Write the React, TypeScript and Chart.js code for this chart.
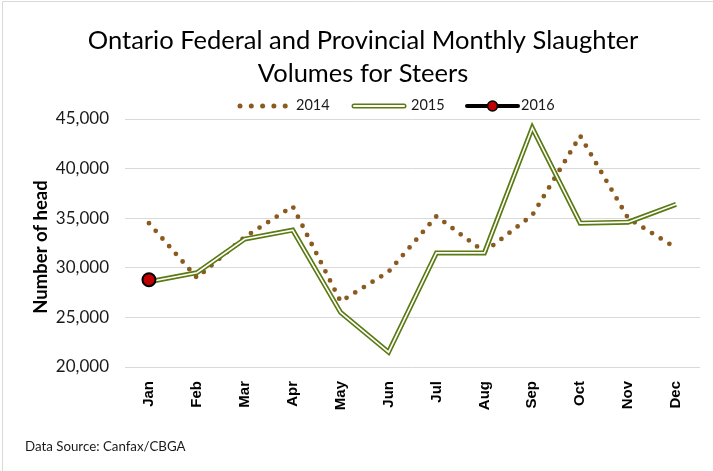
import React, { useEffect, useRef } from "react";
import { Chart, registerables } from "chart.js";

Chart.register(...registerables);

const months = ["Jan", "Feb", "Mar", "Apr", "May", "Jun", "Jul", "Aug", "Sep", "Oct", "Nov", "Dec"];
const vol2014 = [34500, 29000, 33100, 36200, 26600, 29600, 35200, 31600, 35300, 43300, 35000, 32000];
const vol2015 = [28600, 29500, 32900, 33800, 25500, 21500, 31500, 31500, 44100, 34500, 34600, 36400];
const vol2016: (number | null)[] = [28800, null, null, null, null, null, null, null, null, null, null, null];
const yMin = 20000;
const yMax = 45000;
const yStep = 5000;
const titleLines = ["Ontario Federal and Provincial Monthly Slaughter", "Volumes for Steers"];
const seriesNames = ["2014", "2015", "2016"];
const yTitle = "Number of head";
const sourceNote = "Data Source: Canfax/CBGA";

const BROWN = "#8a5a1f";
const GREEN = "#5b7a12";
const RED = "#c00000";
const FONT = "Lato, 'Open Sans', sans-serif";

const decorPlugin = {
  id: "decor",
  beforeDraw(chart: any) {
    const ctx = chart.ctx as CanvasRenderingContext2D;
    ctx.save();
    ctx.fillStyle = "#ffffff";
    ctx.fillRect(0, 0, chart.width, chart.height);
    ctx.strokeStyle = "#d9d9d9";
    ctx.lineWidth = 1;
    ctx.beginPath();
    ctx.moveTo(2.5, chart.height);
    ctx.lineTo(2.5, 1.5);
    ctx.lineTo(chart.width, 1.5);
    ctx.stroke();
    ctx.restore();
  },
  afterDraw(chart: any) {
    const ctx = chart.ctx as CanvasRenderingContext2D;
    ctx.save();
    // title
    ctx.fillStyle = "#000000";
    ctx.font = `25.5px ${FONT}`;
    ctx.textAlign = "center";
    ctx.textBaseline = "middle";
    ctx.fillText(titleLines[0], 363, 41);
    ctx.fillText(titleLines[1], 363, 74);

    // legend
    const ly = 105;
    ctx.font = `14.5px ${FONT}`;
    ctx.textAlign = "left";
    // 2014 dots
    ctx.fillStyle = BROWN;
    for (let i = 0; i < 5; i++) {
      ctx.beginPath();
      ctx.arc(240 + i * 11.3, ly + 1, 2.5, 0, Math.PI * 2);
      ctx.fill();
    }
    ctx.fillStyle = "#1a1a1a";
    ctx.fillText(seriesNames[0], 296, ly);
    // 2015 double line
    ctx.lineCap = "round";
    ctx.strokeStyle = GREEN;
    ctx.lineWidth = 5;
    ctx.beginPath();
    ctx.moveTo(354, ly + 1);
    ctx.lineTo(404, ly + 1);
    ctx.stroke();
    ctx.strokeStyle = "#ffffff";
    ctx.lineWidth = 2;
    ctx.beginPath();
    ctx.moveTo(354, ly + 1);
    ctx.lineTo(404, ly + 1);
    ctx.stroke();
    ctx.fillStyle = "#1a1a1a";
    ctx.fillText(seriesNames[1], 411, ly);
    // 2016 line + marker
    ctx.strokeStyle = "#000000";
    ctx.lineWidth = 4;
    ctx.beginPath();
    ctx.moveTo(467, ly + 1);
    ctx.lineTo(518, ly + 1);
    ctx.stroke();
    ctx.fillStyle = RED;
    ctx.lineWidth = 1.5;
    ctx.beginPath();
    ctx.arc(492.5, ly + 1, 5, 0, Math.PI * 2);
    ctx.fill();
    ctx.stroke();
    ctx.fillStyle = "#1a1a1a";
    ctx.fillText(seriesNames[2], 521, ly);

    // y axis title
    ctx.save();
    ctx.translate(41, 247);
    ctx.rotate(-Math.PI / 2);
    ctx.textAlign = "center";
    ctx.font = `bold 18.5px ${FONT}`;
    ctx.fillStyle = "#000000";
    ctx.fillText(yTitle, 0, 0);
    ctx.restore();

    // source note
    ctx.font = `13.3px ${FONT}`;
    ctx.textAlign = "left";
    ctx.fillStyle = "#1a1a1a";
    ctx.fillText(sourceNote, 25, 447);
    ctx.restore();
  },
};

export default function App() {
  const canvasRef = useRef<HTMLCanvasElement | null>(null);

  useEffect(() => {
    const canvas = canvasRef.current;
    if (!canvas) return;
    const chart = new Chart(canvas, {
      type: "line",
      data: {
        labels: months,
        datasets: [
          {
            label: seriesNames[2],
            data: vol2016,
            borderColor: "#000000",
            backgroundColor: RED,
            pointBackgroundColor: RED,
            pointBorderColor: "#000000",
            pointBorderWidth: 2,
            pointRadius: 6.5,
            borderWidth: 3,
            showLine: false,
            order: 0,
          },
          {
            label: seriesNames[1] + " inner",
            data: vol2015,
            borderColor: "#ffffff",
            borderWidth: 1.6,
            pointRadius: 0,
            tension: 0,
            borderJoinStyle: "miter",
            order: 1,
          },
          {
            label: seriesNames[1],
            data: vol2015,
            borderColor: GREEN,
            borderWidth: 5,
            pointRadius: 0,
            tension: 0,
            borderJoinStyle: "miter",
            order: 2,
          },
          {
            label: seriesNames[0],
            data: vol2014,
            borderColor: BROWN,
            borderWidth: 4.8,
            borderDash: [0, 10.2],
            borderCapStyle: "round",
            pointRadius: 0,
            tension: 0,
            order: 3,
          },
        ],
      },
      options: {
        responsive: false,
        animation: false,
        devicePixelRatio: 1,
        layout: { padding: { top: 119, right: 13, left: 0, bottom: 0 } },
        plugins: {
          legend: { display: false },
          title: { display: false },
          tooltip: { enabled: false },
        },
        scales: {
          x: {
            offset: true,
            grid: { display: false, drawTicks: false },
            border: { display: false },
            ticks: {
              minRotation: 90,
              maxRotation: 90,
              padding: 14,
              color: "#000000",
              font: { family: "'Liberation Sans', Arial, sans-serif", size: 15, weight: "bold" },
            },
            afterFit: (scale: any) => {
              scale.height = 104;
            },
          },
          y: {
            min: yMin,
            max: yMax,
            ticks: {
              stepSize: yStep,
              padding: 16,
              color: "#1a1a1a",
              font: { family: FONT, size: 17 },
              callback: (v: any) => Number(v).toLocaleString("en-US"),
            },
            grid: { color: "#d9d9d9", lineWidth: 1, drawTicks: false },
            border: { display: false },
            afterFit: (scale: any) => {
              scale.width = 125;
            },
          },
        },
      },
      plugins: [decorPlugin],
    });
    return () => chart.destroy();
  }, []);

  return (
    <div style={{ position: "fixed", left: 0, top: 0, width: 713, height: 471, background: "#fff" }}>
      <canvas ref={canvasRef} width={713} height={471} style={{ width: 713, height: 471, display: "block" }} />
    </div>
  );
}
